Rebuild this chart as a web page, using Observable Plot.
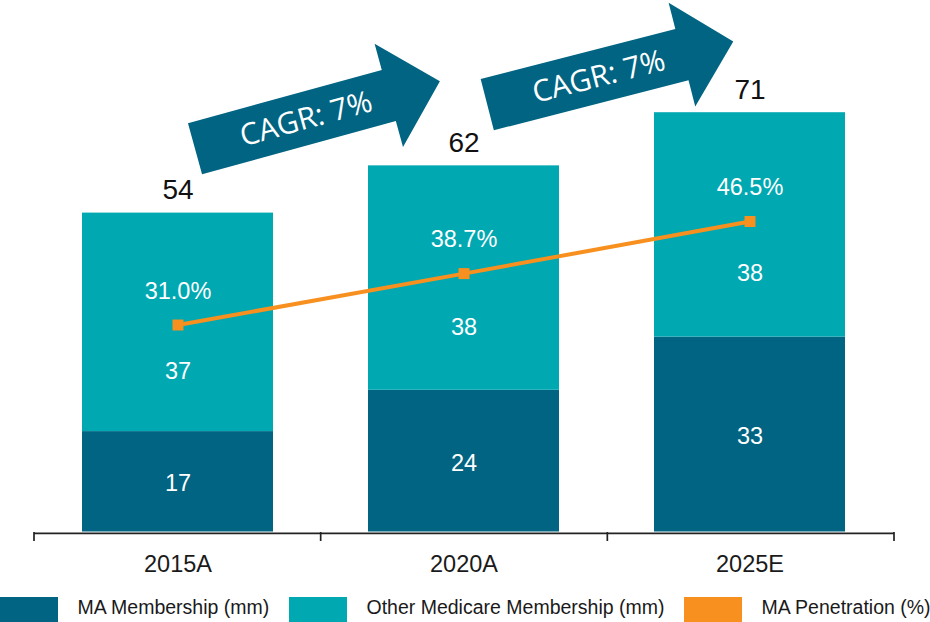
<!DOCTYPE html>
<html><head><meta charset="utf-8">
<script src="https://cdn.jsdelivr.net/npm/d3@7"></script>
<script src="https://cdn.jsdelivr.net/npm/@observablehq/plot@0.6"></script>
<style>
body{margin:0;background:#fff;font-family:"Liberation Sans",Arial,sans-serif;}
#chart svg{display:block}
.legend{position:relative;height:26px;margin-top:5.7px;width:930px;}
.item{position:absolute;top:0;display:flex;align-items:center;height:25px;}
.sw{width:58px;height:25px;margin-right:19.5px;flex:none}
.lt{font-size:19.5px;color:#1a1a1a;position:relative;top:-1.5px;white-space:nowrap}
</style></head><body>
<div id="chart"></div>
<div class="legend" id="legend"></div>
<script>
const years = ["2015A", "2020A", "2025E"];
const maMembership = [17, 24, 33];
const otherMembership = [37, 38, 38];
const totalMembership = [54, 62, 71];
const maPenetration = [31.0, 38.7, 46.5];
const cagrLabels = ["CAGR: 7%", "CAGR: 7%"];
const seriesNames = ["MA Membership (mm)", "Other Medicare Membership (mm)", "MA Penetration (%)"];
const colors = ["#006482", "#00A8B1", "#F7901E"];

// layout
const yMax = 90, pctMax = 79.6;
const toY = p => p * yMax / pctMax;
const arrowLayout = [{at: 0.398, y: 69.3, angle: -15.4}, {at: 0.419, y: 76.5, angle: -14.4}];
const legendLeft = [0, 289, 684];

const stacked = [];
years.forEach((yr, i) => {
  stacked.push({year: yr, series: seriesNames[0], value: maMembership[i]});
  stacked.push({year: yr, series: seriesNames[1], value: otherMembership[i]});
});
const pen = years.map((yr, i) => ({year: yr, pct: maPenetration[i]}));

function xInfo(scales, dims) {
  const x = scales.x;
  let r0, r1;
  if (x && x.range) { [r0, r1] = x.range(); }
  else { r0 = dims.marginLeft; r1 = dims.width - dims.marginRight; }
  const n = years.length;
  const step = (r1 - r0) / n;
  const center = (cat) => r0 + step * (years.indexOf(cat) + 0.5);
  return {r0, r1, step, center, n};
}

function boundaryTicks(index, scales, values, dims) {
  const {r0, step, n} = xInfo(scales, dims);
  const y0 = scales.y(0);
  const g = d3.create("svg:g").attr("stroke", "#222").attr("stroke-width", 1.7);
  for (let i = 0; i <= n; i++) {
    const xx = r0 + i * step;
    g.append("line").attr("x1", xx).attr("x2", xx).attr("y1", y0 + 0.5).attr("y2", y0 + 9.5);
  }
  return g.node();
}

function cagrArrows(index, scales, values, dims) {
  const {step, center} = xInfo(scales, dims);
  const g = d3.create("svg:g");
  const shape = [[-100, -26.5], [101, -26.5], [101, -53.5], [154, 0], [101, 53.5], [101, 26.5], [-100, 26.5]];
  cagrLabels.forEach((label, i) => {
    const L = arrowLayout[i];
    const cx = center(years[i]) + L.at * step;
    const cy = scales.y(L.y);
    const a = g.append("g").attr("transform", `translate(${cx},${cy}) rotate(${L.angle})`);
    a.append("path").attr("d", "M" + shape.map(p => p.join(",")).join("L") + "Z").attr("fill", colors[0]);
    a.append("text").attr("x", 15).attr("y", 0).attr("dy", "0.35em")
      .attr("text-anchor", "middle").attr("fill", "#fff")
      .attr("font-family", "'Open Sans', sans-serif").attr("font-size", 30)
      .text(label);
  });
  return g.node();
}

const chart = Plot.plot({
  width: 930,
  height: 591,
  marginLeft: 34,
  marginRight: 36,
  marginTop: 0,
  marginBottom: 59.5,
  style: {fontFamily: "'Liberation Sans', Arial, sans-serif", background: "#fff", overflow: "visible"},
  x: {domain: years, paddingInner: 0.332, paddingOuter: 0.166, axis: null},
  y: {domain: [0, yMax], axis: null},
  color: {domain: seriesNames.slice(0, 2), range: colors.slice(0, 2)},
  marks: [
    Plot.barY(stacked, {x: "year", y: "value", fill: "series"}),
    Plot.ruleY([0], {stroke: "#222", strokeWidth: 1.7, dy: 1.3}),
    boundaryTicks,
    Plot.text(years, {x: d => d, y: () => 0, text: d => d, lineAnchor: "top", dy: 23.5, fontSize: 23.5, fill: "#1a1a1a"}),
    Plot.text(years, {x: d => d, y: (d, i) => maMembership[i] / 2, text: (d, i) => String(maMembership[i]), dy: 2, fill: "#fff", fontSize: 23.5}),
    Plot.text(years, {x: d => d, y: (d, i) => maMembership[i] + otherMembership[i] / 2, text: (d, i) => String(otherMembership[i]), dy: 49, fill: "#fff", fontSize: 23.5}),
    Plot.text(years, {x: d => d, y: (d, i) => totalMembership[i], text: (d, i) => String(totalMembership[i]), lineAnchor: "bottom", dy: -14, fill: "#111", fontSize: 28}),
    Plot.line(pen, {x: "year", y: d => toY(d.pct), stroke: colors[2], strokeWidth: 4}),
    Plot.dot(pen, {x: "year", y: d => toY(d.pct), symbol: "square", r: 6.2, fill: colors[2], stroke: "none"}),
    Plot.text(pen, {x: "year", y: d => toY(d.pct), text: d => d.pct.toFixed(1) + "%", dy: -34, fill: "#fff", fontSize: 23.5}),
    cagrArrows
  ]
});
document.getElementById("chart").appendChild(chart);

const legend = document.getElementById("legend");
seriesNames.forEach((name, i) => {
  const item = document.createElement("div");
  item.className = "item";
  item.style.left = legendLeft[i] + "px";
  const sw = document.createElement("div");
  sw.className = "sw";
  sw.style.background = colors[i];
  const t = document.createElement("span");
  t.className = "lt";
  t.textContent = name;
  item.appendChild(sw);
  item.appendChild(t);
  legend.appendChild(item);
});
</script>
</body></html>
